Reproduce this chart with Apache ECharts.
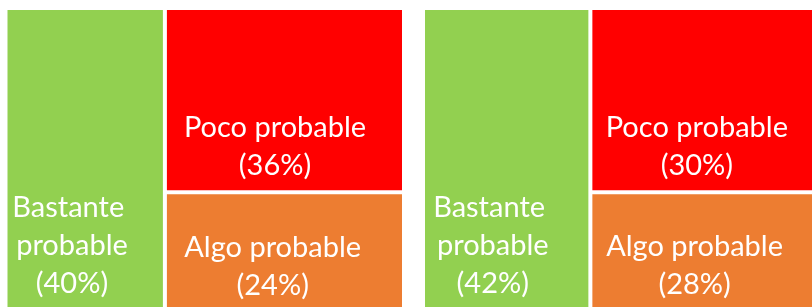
<!DOCTYPE html>
<html>
<head>
<meta charset="utf-8">
<script src="https://cdn.jsdelivr.net/npm/echarts@6/dist/echarts.min.js"></script>
<style>
html,body{margin:0;padding:0;background:#fff;}
#chart{width:812px;height:307px;}
</style>
</head>
<body>
<div id="chart"></div>
<script>
var categories = ['Bastante probable', 'Poco probable', 'Algo probable'];
var leftValues = [40, 36, 24];
var rightValues = [42, 30, 28];
var colors = ['#92D050', '#FF0000', '#ED7D31'];
//标签位置: x为宽度百分比, y为距顶部像素
var labelPos = [['41.5%', 298], ['46%', 180], ['45%', 115]];

/**
 * 生成矩形树图数据
 */
function buildData(values){
	var rtn = [];
	for (var i = 0; i < categories.length; i++) {
		rtn.push({
			name: categories[i],
			value: values[i],
			itemStyle: {color: colors[i]},
			label: {position: labelPos[i]}
		});
	}
	return rtn;
}

/**
 * 生成系列
 */
function buildSeries(values, box){
	return {
		type: 'treemap',
		left: box.left,
		top: box.top,
		width: box.width,
		height: box.height,
		roam: false,
		nodeClick: false,
		silent: true,
		breadcrumb: {show: false},
		squareRatio: 0.8,
		label: {
			show: true,
			color: '#fff',
			fontFamily: 'Lato',
			fontSize: 29,
			lineHeight: 38,
			align: 'center',
			verticalAlign: 'bottom',
			overflow: 'break',
			formatter: function(p){
				return p.name + '\n(' + p.value + '%)';
			}
		},
		levels: [
			{itemStyle: {borderWidth: 0, gapWidth: 0}},
			{itemStyle: {borderWidth: 2, borderColor: '#fff', gapWidth: 0}}
		],
		data: buildData(values)
	};
}

var chart = echarts.init(document.getElementById('chart'));
chart.setOption({
	animation: false,
	series: [
		buildSeries(leftValues, {left: 5.5, top: 8, width: 398.5, height: 307}),
		buildSeries(rightValues, {left: 423, top: 8, width: 398.5, height: 356})
	]
});
</script>
</body>
</html>
